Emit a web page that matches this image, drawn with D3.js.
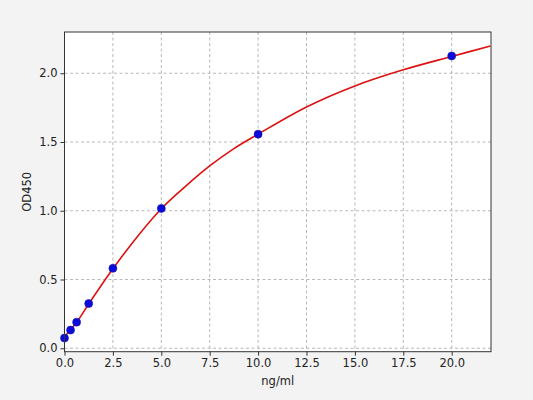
<!DOCTYPE html>
<html>
<head>
<meta charset="utf-8">
<script src="https://cdn.jsdelivr.net/npm/d3@7"></script>
<style>
  html, body { margin: 0; padding: 0; background: #f3f3f3; }
  svg { display: block; }
  text { font-family: "DejaVu Sans", sans-serif; fill: #222; }
</style>
</head>
<body>
<svg id="chart" width="533" height="400"></svg>
<script>
// Standard points
const concentrations = [0, 0.3125, 0.625, 1.25, 2.5, 5, 10, 20];
const odValues = [0.074, 0.132, 0.190, 0.325, 0.581, 1.017, 1.557, 2.126];

// Fitted curve
const curveX = [0, 0.3125, 0.625, 1.25, 2.5, 3.75, 5, 6.25, 7.5, 8.75, 10, 12.5, 15, 17.5, 20, 22];
const curveY = [0.084, 0.135, 0.188, 0.322, 0.578, 0.81, 1.015, 1.178, 1.326, 1.452, 1.557, 1.755, 1.908, 2.025, 2.122, 2.198];

const xTicks = [0, 2.5, 5, 7.5, 10, 12.5, 15, 17.5, 20];
const yTicks = [0, 0.5, 1.0, 1.5, 2.0];
const xLabel = "ng/ml";
const yLabel = "OD450";

const svg = d3.select("#chart");
const m = { left: 64.5, right: 491, top: 32, bottom: 351.7 };

const x = d3.scaleLinear().domain([0, 22.03]).range([m.left, m.right]);
const y = d3.scaleLinear().domain([-0.025, 2.3]).range([m.bottom, m.top]);

svg.append("rect").attr("x", 0).attr("y", 0).attr("width", 533).attr("height", 400).attr("fill", "#f3f3f3");
svg.append("rect")
  .attr("x", m.left).attr("y", m.top)
  .attr("width", m.right - m.left).attr("height", m.bottom - m.top)
  .attr("fill", "#ffffff");

// grid
const grid = svg.append("g").attr("stroke", "#b0b0b0").attr("stroke-width", 0.9).attr("stroke-dasharray", "3,2.5");
grid.selectAll(".gx").data(xTicks).join("line")
  .attr("x1", d => x(d)).attr("x2", d => x(d))
  .attr("y1", m.top).attr("y2", m.bottom);
grid.selectAll(".gy").data(yTicks).join("line")
  .attr("x1", m.left).attr("x2", m.right)
  .attr("y1", d => y(d)).attr("y2", d => y(d));

// curve
svg.append("clipPath").attr("id", "clip").append("rect")
  .attr("x", m.left).attr("y", m.top).attr("width", m.right - m.left).attr("height", m.bottom - m.top);
const line = d3.line().x(d => x(d[0])).y(d => y(d[1])).curve(d3.curveCatmullRom.alpha(0.5));
svg.append("path")
  .datum(curveX.map((v, i) => [v, curveY[i]]))
  .attr("clip-path", "url(#clip)")
  .attr("d", line)
  .attr("fill", "none")
  .attr("stroke", "#dd1111")
  .attr("stroke-width", 1.6);

// points
svg.append("g").selectAll("circle")
  .data(concentrations.map((v, i) => [v, odValues[i]]))
  .join("circle")
  .attr("cx", d => x(d[0])).attr("cy", d => y(d[1]))
  .attr("r", 4)
  .attr("fill", "#0a0adc")
  .attr("stroke", "#1a1a9a")
  .attr("stroke-width", 0.6);

// axes
const xAxis = d3.axisBottom(x).tickValues(xTicks).tickFormat(d3.format(".1f")).tickSize(4).tickPadding(3);
const yAxis = d3.axisLeft(y).tickValues(yTicks).tickFormat(d3.format(".1f")).tickSize(4).tickPadding(3);
const gx = svg.append("g").attr("transform", `translate(0,${m.bottom})`).call(xAxis);
const gy = svg.append("g").attr("transform", `translate(${m.left},0)`).call(yAxis);
[gx, gy].forEach(g => {
  g.select(".domain").remove();
  g.selectAll("line").attr("stroke", "#333");
  g.selectAll("text").attr("font-size", 11.5).attr("font-family", "DejaVu Sans, sans-serif").attr("fill", "#222");
});

// frame
svg.append("rect")
  .attr("x", m.left).attr("y", m.top)
  .attr("width", m.right - m.left).attr("height", m.bottom - m.top)
  .attr("fill", "none").attr("stroke", "#333").attr("stroke-width", 1);

// labels
svg.append("text").attr("x", (m.left + m.right) / 2).attr("y", 385)
  .attr("text-anchor", "middle").attr("font-size", 11.5).text(xLabel);
svg.append("text").attr("transform", `translate(31,${(m.top + m.bottom) / 2}) rotate(-90)`)
  .attr("text-anchor", "middle").attr("font-size", 11.5).text(yLabel);
</script>
</body>
</html>
